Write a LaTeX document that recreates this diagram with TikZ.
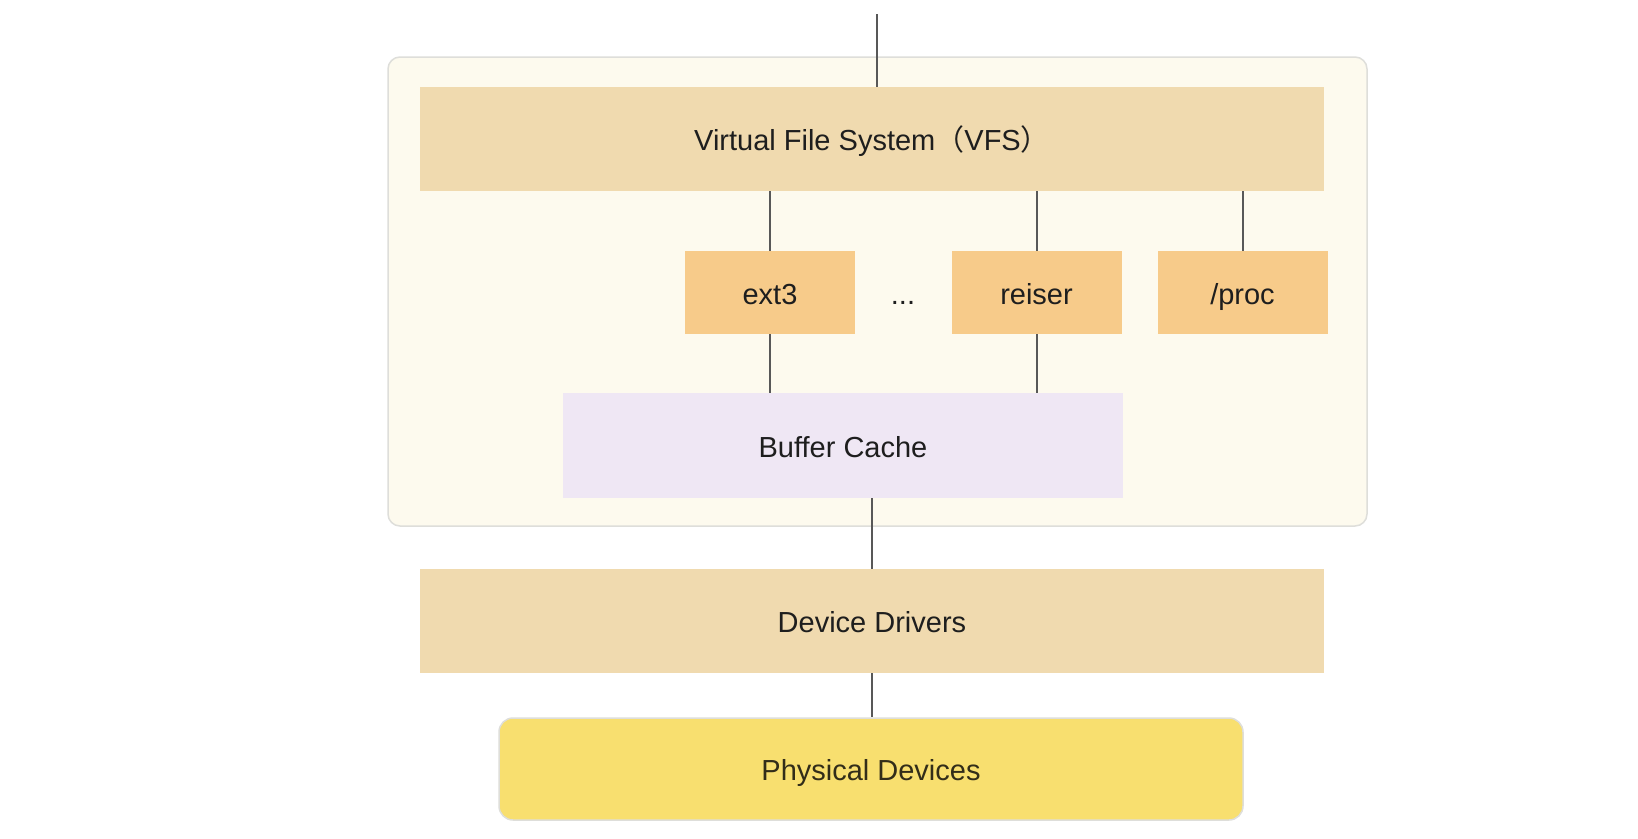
\documentclass[tikz,border=0pt]{standalone}
\usepackage{fontspec}
\setmainfont{Liberation Sans}
\newfontfamily\cjkfont{Noto Sans CJK SC}
\usetikzlibrary{positioning}
\definecolor{panel}{RGB}{253,250,238}
\definecolor{panelline}{RGB}{222,222,218}
\definecolor{layer}{RGB}{240,218,175}
\definecolor{fsbox}{RGB}{247,203,138}
\definecolor{cache}{RGB}{239,231,244}
\definecolor{device}{RGB}{248,223,111}
\definecolor{wire}{RGB}{88,88,88}
\definecolor{ink}{RGB}{30,30,30}
\definecolor{devink}{RGB}{50,45,25}

\tikzset{
  every node/.style={text height=23pt,text depth=0pt},
  layerbox/.style={fill=layer,minimum width=904pt,minimum height=104pt,inner sep=0pt,text=ink},
  fsnode/.style={fill=fsbox,minimum width=170pt,minimum height=83pt,inner sep=0pt,text=ink},
  wireline/.style={draw=wire,line width=2pt}
}

\begin{document}
\begin{tikzpicture}[x=1pt,y=-1pt,font=\fontsize{29}{33}\selectfont]
      \useasboundingbox[fill=white] (0,0) rectangle (1638,838);
      % kernel part
      \draw[panelline,fill=panel,line width=1.5pt,rounded corners=12pt] (388,57) rectangle (1367,526);
      \node[layerbox] (vfs) at (872,139) {Virtual File System{\cjkfont （}VFS{\cjkfont ）}};
      \node[fsnode] (ext3) at (770,292.5) {ext3};
      \node[fsnode] (reiser) at (1036.5,292.5) {reiser};
      \node[fsnode] (proc) at (1242.5,292.5) {/proc};
      \node[text=ink,inner sep=0pt] (dots) at (903,292.5) {...};
      \node[fill=cache,minimum width=560pt,minimum height=105pt,inner sep=0pt,text=ink] (buf) at (843,445.5) {Buffer Cache};
      % below
      \node[layerbox] (dev) at (872,621) {Device Drivers};
      \node[draw=panelline,line width=1.5pt,fill=device,rounded corners=14pt,minimum width=744pt,minimum height=102pt,inner sep=0pt,text=devink] (phys) at (871,769) {Physical Devices};
      \coordinate (user) at (877,14);
      \draw[wireline] (user) -- (user |- vfs.north);
      \draw[wireline] (vfs.south -| ext3) -- (ext3.north);
      \draw[wireline] (vfs.south -| reiser) -- (reiser.north);
      \draw[wireline] (vfs.south -| proc) -- (proc.north);
      \draw[wireline] (ext3.south) -- (ext3.south |- buf.north);
      \draw[wireline] (reiser.south) -- (reiser.south |- buf.north);
      \draw[wireline] (dev.north) -- (dev.north |- buf.south);
      \draw[wireline] (dev.south) -- (dev.south |- phys.north);
    \end{tikzpicture}
\end{document}
